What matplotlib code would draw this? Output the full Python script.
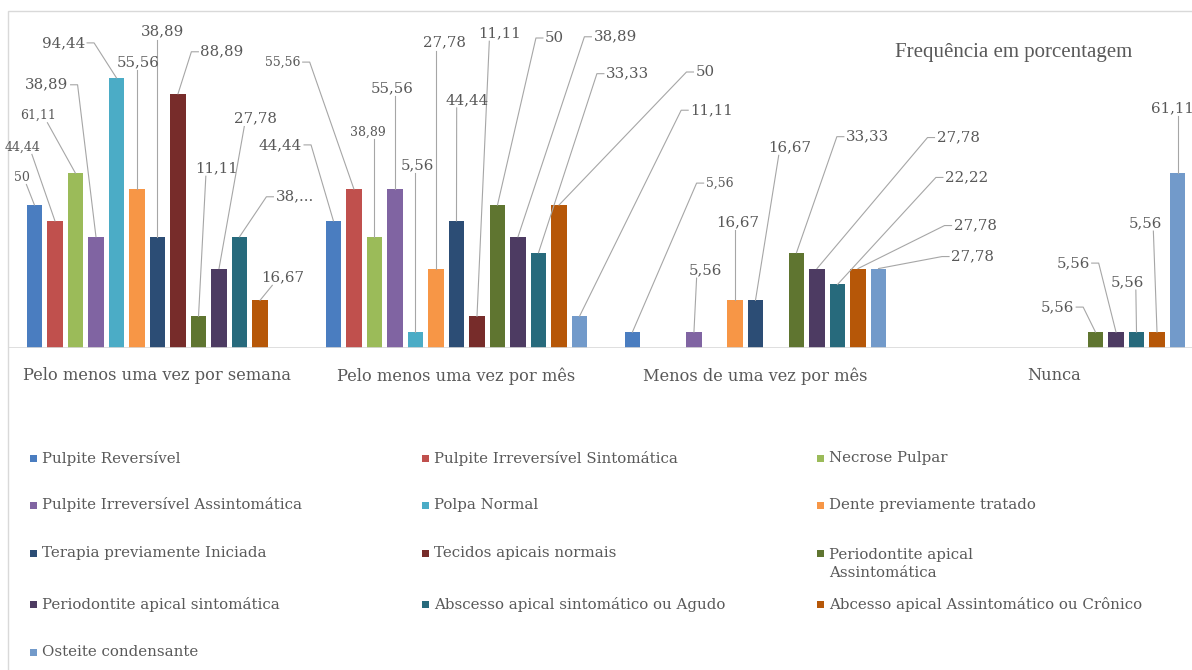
import matplotlib
matplotlib.use('Agg')
import matplotlib.pyplot as plt
from matplotlib.transforms import IdentityTransform
from matplotlib.lines import Line2D
from matplotlib.patches import Rectangle

categories = ['Pelo menos uma vez por semana', 'Pelo menos uma vez por mês',
              'Menos de uma vez por mês', 'Nunca']

series_names = [
    'Pulpite Reversível',
    'Pulpite Irreversível Sintomática',
    'Necrose Pulpar',
    'Pulpite Irreversível Assintomática',
    'Polpa Normal',
    'Dente previamente tratado',
    'Terapia previamente Iniciada',
    'Tecidos apicais normais',
    'Periodontite apical\nAssintomática',
    'Periodontite apical sintomática',
    'Abscesso apical sintomático ou Agudo',
    'Abcesso apical Assintomático ou Crônico',
    'Osteite condensante',
]

colors = ['#4A7DC0', '#C0504D', '#9BBB59', '#8064A2', '#4BACC6', '#F79646',
          '#2C4D75', '#772C2A', '#5F7530', '#4D3B62', '#276A7C', '#B65708',
          '#729ACA']

# frequency (%) per category, one list per series
pulpite_reversivel = [50, 44.44, 5.56, 0]
pulpite_irrev_sintomatica = [44.44, 55.56, 0, 0]
necrose_pulpar = [61.11, 38.89, 0, 0]
pulpite_irrev_assintomatica = [38.89, 55.56, 5.56, 0]
polpa_normal = [94.44, 5.56, 0, 0]
dente_tratado = [55.56, 27.78, 16.67, 0]
terapia_iniciada = [38.89, 44.44, 16.67, 0]
tecidos_normais = [88.89, 11.11, 0, 0]
periodontite_assintomatica = [11.11, 50, 33.33, 5.56]
periodontite_sintomatica = [27.78, 38.89, 27.78, 5.56]
abscesso_agudo = [38.89, 33.33, 22.22, 5.56]
abcesso_cronico = [16.67, 50, 27.78, 5.56]
osteite = [0, 11.11, 27.78, 61.11]

series_values = [pulpite_reversivel, pulpite_irrev_sintomatica, necrose_pulpar,
                 pulpite_irrev_assintomatica, polpa_normal, dente_tratado,
                 terapia_iniciada, tecidos_normais, periodontite_assintomatica,
                 periodontite_sintomatica, abscesso_agudo, abcesso_cronico, osteite]

# where each value label sits: (category, series) -> (dx px, dy px from bar top, leader, small)
# leader 'b' = line from under the label, 's' = short stub from the label side
label_layout = {
    (0, 0): (-12, 28, 'b', True),
    (0, 1): (-32, 74, 'b', True),
    (0, 2): (-37, 58, 'b', True),
    (0, 3): (-49, 152, 's', False),
    (0, 4): (-53, 35, 's', False),
    (0, 5): (1, 127, 'b', False),
    (0, 6): (5, 205, 'b', False),
    (0, 7): (44, 42, 's', False),
    (0, 8): (18, 148, 'b', False),
    (0, 9): (36, 150, 'b', False),
    (0, 10): (55, 40, 's', False),
    (0, 11): (23, 23, 'b', False),
    (1, 0): (-53, 76, 's', False),
    (1, 1): (-71, 127, 's', True),
    (1, 2): (-7, 105, 'b', True),
    (1, 3): (-3, 101, 'b', False),
    (1, 4): (2, 167, 'b', False),
    (1, 5): (9, 226, 'b', False),
    (1, 6): (11, 121, 'b', False),
    (1, 7): (23, 283, 'b', False),
    (1, 8): (57, 167, 's', False),
    (1, 9): (97, 200, 's', False),
    (1, 10): (89, 179, 's', False),
    (1, 11): (146, 133, 's', False),
    (1, 12): (132, 206, 's', False),
    (2, 0): (87, 149, 's', True),
    (2, 3): (11, 62, 'b', False),
    (2, 5): (3, 78, 'b', False),
    (2, 6): (34, 153, 'b', False),
    (2, 8): (71, 116, 's', False),
    (2, 9): (141, 131, 's', False),
    (2, 10): (129, 107, 's', False),
    (2, 11): (117, 43, 's', False),
    (2, 12): (94, 12, 's', False),
    (3, 8): (-38, 25, 's', False),
    (3, 9): (-43, 69, 's', False),
    (3, 10): (-9, 50, 'b', False),
    (3, 11): (-12, 109, 'b', False),
    (3, 12): (-5, 65, 'b', False),
}
label_override = {(0, 10): '38,...'}

TEXT = '#595959'
LEADER = '#A6A6A6'
SERIF = 'DejaVu Serif'
W, H = 1192, 670
PX = IdentityTransform()

fig = plt.figure(figsize=(W / 100, H / 100), dpi=100)
ax = fig.add_axes([8 / W, 1 - 348 / H, 1 - 8 / W, 110 * 2.86 / H])

n = len(series_names)
pitch = 0.0686
width = 0.052
for i, vals in enumerate(series_values):
    xs = [c + (i - (n - 1) / 2) * pitch for c in range(len(categories))]
    ax.bar(xs, vals, width, color=colors[i], linewidth=0)

ax.set_xlim(-0.5, 3.46)
ax.set_ylim(0, 110)
for s in ax.spines.values():
    s.set_visible(False)
ax.axhline(0, color='#D9D9D9', lw=1.2)
ax.set_yticks([])
ax.set_xticks(range(len(categories)), categories)
ax.tick_params(axis='x', length=0, pad=14, labelcolor=TEXT, labelsize=11.7)
for t in ax.get_xticklabels():
    t.set_family(SERIF)

# value labels with leader lines
renderer = fig.canvas.get_renderer()
for (c, i), (dx, dy, style, small) in label_layout.items():
    v = series_values[i][c]
    bx, by = ax.transData.transform((c + (i - (n - 1) / 2) * pitch, v))
    lx, ly = bx + dx, by + dy
    txt = label_override.get((c, i), f'{v:g}'.replace('.', ','))
    t = fig.text(lx, ly, txt, transform=PX, ha='center', va='center',
                 family=SERIF, size=9 if small else 10.8, color=TEXT)
    bb = t.get_window_extent(renderer)
    if style == 'b':
        q = bb.width / 4
        sx = lx + max(-q, min(q, bx - lx))
        xs, ys = [sx, bx], [bb.y0 - 1, by]
    else:
        if bx > lx:
            ex = bb.x1 + 2
            xs, ys = [ex, ex + 7, bx], [ly, ly, by]
        else:
            ex = bb.x0 - 2
            xs, ys = [ex, ex - 7, bx], [ly, ly, by]
    fig.add_artist(Line2D(xs, ys, transform=PX, color=LEADER, lw=0.8))

fig.text(1014, H - 52, 'Frequência em porcentagem', transform=PX, ha='center',
         va='center', family='Liberation Serif', size=15, color=TEXT)

# legend, three entries per row
row_y = [458, 505, 553, 604, 652]
col_x = [33, 425, 820]
for k, name in enumerate(series_names):
    x = col_x[k % 3]
    y = H - row_y[k // 3]
    fig.add_artist(Rectangle((x - 3.5, y - 3.5), 7, 7, transform=PX,
                             color=colors[k], lw=0))
    extra = name.count('\n') * 11
    fig.text(x + 9, y - extra, name, transform=PX, ha='left', va='center',
             family=SERIF, size=10.8, color=TEXT, linespacing=1.4)

fig.add_artist(Rectangle((7.5, -20), W + 20, H - 10.5 + 20, transform=PX,
                         fill=False, edgecolor='#D9D9D9', lw=1))

fig.savefig('out.png', dpi=100)
